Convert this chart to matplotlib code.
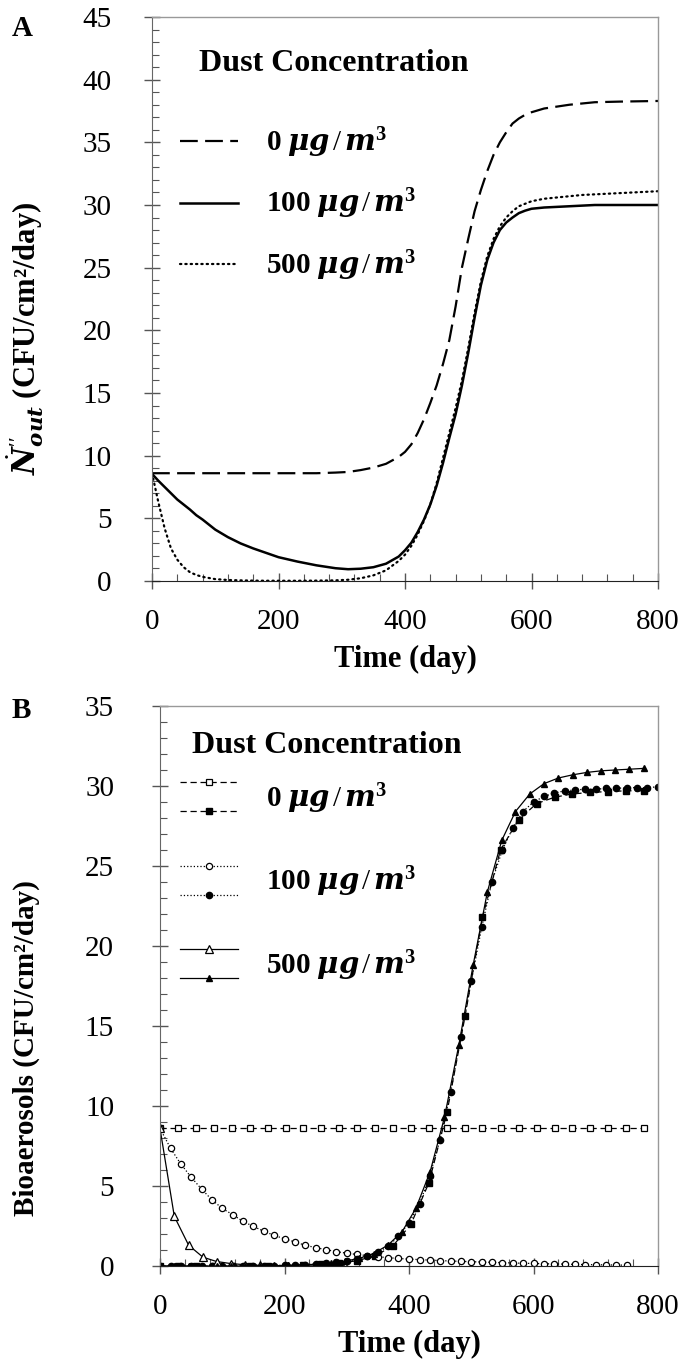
import numpy as np
import matplotlib
matplotlib.use("Agg")
import matplotlib.pyplot as plt
from matplotlib.ticker import MultipleLocator
from matplotlib.legend_handler import HandlerBase, HandlerLine2D

plt.rcParams['font.family'] = ['Liberation Serif', 'DejaVu Serif']
plt.rcParams['mathtext.fontset'] = 'custom'
plt.rcParams['mathtext.rm'] = 'Liberation Serif'
plt.rcParams['mathtext.it'] = 'Liberation Serif:italic'
plt.rcParams['mathtext.bf'] = 'Liberation Serif:bold'
plt.rcParams['mathtext.bfit'] = 'DejaVu Serif:bold:italic'

# ---- panel A data (day, CFU/cm2/day) ----
days_a = [0, 10, 20, 30, 40, 50, 60, 70, 80, 100, 120, 140, 160, 180, 200, 230,
          260, 290, 310, 330, 350, 370, 390, 400, 410, 420, 430, 440, 450, 460,
          470, 480, 490, 500, 510, 520, 530, 540, 550, 560, 570, 580, 590, 600,
          620, 640, 660, 680, 700, 740, 800]
dust0_a = [8.6, 8.6, 8.6, 8.6, 8.6, 8.6, 8.6, 8.6, 8.6, 8.6, 8.6, 8.6, 8.6, 8.6,
           8.6, 8.6, 8.6, 8.65, 8.7, 8.85, 9.05, 9.35, 9.9, 10.3, 10.9, 11.8,
           12.9, 14.2, 15.6, 17.3, 19.2, 21.9, 25.0, 27.3, 29.5, 31.2, 32.7,
           34.0, 35.0, 35.8, 36.5, 36.9, 37.2, 37.4, 37.7, 37.85, 38.0, 38.1,
           38.2, 38.25, 38.3]
dust100_a = [8.55, 8.0, 7.5, 7.0, 6.5, 6.1, 5.7, 5.25, 4.9, 4.1, 3.5, 3.0, 2.6,
             2.25, 1.9, 1.55, 1.25, 1.02, 0.94, 0.98, 1.1, 1.38, 1.95, 2.45,
             3.05, 3.9, 4.9, 6.1, 7.6, 9.4, 11.4, 13.3, 15.6, 18.2, 21.0, 23.6,
             25.6, 27.0, 28.0, 28.6, 29.0, 29.35, 29.55, 29.7, 29.8, 29.85,
             29.9, 29.95, 30.0, 30.0, 30.0]
dust500_a = [8.6, 6.3, 4.2, 2.6, 1.7, 1.1, 0.7, 0.48, 0.33, 0.15, 0.08, 0.05,
             0.03, 0.02, 0.02, 0.02, 0.03, 0.05, 0.1, 0.22, 0.45, 0.85, 1.6,
             2.1, 2.8, 3.7, 4.8, 6.1, 7.8, 9.8, 11.8, 13.8, 16.0, 18.6, 21.4,
             23.9, 25.9, 27.3, 28.3, 29.0, 29.5, 29.9, 30.1, 30.3, 30.5, 30.6,
             30.7, 30.8, 30.85, 30.95, 31.1]

# ---- panel B data ----
sq_days = [0, 29, 58, 86, 115, 144, 173, 202, 230, 259, 288, 317, 346, 374,
           403, 432, 461, 490, 518, 547, 576, 605, 634, 662, 691, 720, 749, 778]
sq_open = [8.6] * len(sq_days)
sq_fill = [0, 0, 0, 0, 0, 0, 0.01, 0.03, 0.06, 0.1, 0.18, 0.33, 0.65, 1.25,
           2.6, 5.2, 9.6, 15.6, 21.8, 26.0, 27.9, 28.9, 29.3, 29.5, 29.6,
           29.65, 29.7, 29.7]

ci_days = [0, 17, 33, 50, 67, 83, 100, 117, 133, 150, 167, 183, 200, 217, 233,
           250, 267, 283, 300, 317, 333, 350, 367, 383, 400, 417, 433, 450, 467,
           483, 500, 517, 533, 550, 567, 583, 600, 617, 633, 650, 667, 683, 700,
           717, 733, 750, 767, 783, 800]
ci_open = [8.6, 7.35, 6.4, 5.55, 4.8, 4.15, 3.6, 3.2, 2.8, 2.47, 2.17, 1.92,
           1.7, 1.5, 1.3, 1.15, 1.02, 0.9, 0.8, 0.72, 0.65, 0.58, 0.52, 0.47,
           0.43, 0.4, 0.37, 0.34, 0.31, 0.29, 0.27, 0.25, 0.23, 0.21, 0.19,
           0.17, 0.16, 0.14, 0.13, 0.12, 0.1, 0.09, 0.08, 0.07, 0.06, 0.05]
ci_fill = [0, 0, 0, 0, 0, 0, 0, 0, 0, 0.01, 0.02, 0.03, 0.05, 0.07, 0.09, 0.12,
           0.16, 0.22, 0.3, 0.42, 0.6, 0.85, 1.25, 1.85, 2.7, 3.9, 5.6, 7.9,
           10.9, 14.3, 17.8, 21.2, 24.0, 26.0, 27.4, 28.4, 29.0, 29.35, 29.55,
           29.7, 29.75, 29.8, 29.8, 29.85, 29.85, 29.9, 29.9, 29.9, 29.95]

tr_days = [0, 23, 46, 69, 91, 114, 137, 160, 183, 206, 229, 251, 274, 297, 320,
           343, 366, 389, 411, 434, 457, 480, 503, 526, 549, 571, 594, 617, 640,
           663, 686, 709, 731, 754, 777]
tr_open = [8.6, 3.1, 1.3, 0.55, 0.28, 0.15, 0.08, 0.04, 0.02, 0.01, 0, 0, 0, 0]
tr_fill = [0, 0, 0, 0, 0, 0, 0, 0.01, 0.02, 0.04, 0.07, 0.11, 0.18, 0.3, 0.48,
           0.78, 1.3, 2.15, 3.6, 5.9, 9.3, 13.8, 18.8, 23.4, 26.6, 28.4, 29.5,
           30.15, 30.5, 30.7, 30.85, 30.95, 31.0, 31.05, 31.1]

labels = [r'$\mathbf{0}\ \mathbfit{\mu g}\,/\,\mathbfit{m}^{\mathbf{3}}$',
          r'$\mathbf{100}\ \mathbfit{\mu g}\,/\,\mathbfit{m}^{\mathbf{3}}$',
          r'$\mathbf{500}\ \mathbfit{\mu g}\,/\,\mathbfit{m}^{\mathbf{3}}$']


class HandlerPair(HandlerBase):
    # two legend lines stacked on top of each other for one label
    def create_artists(self, legend, orig_handle, xdescent, ydescent,
                       width, height, fontsize, trans):
        out = []
        gap = 1.0 * fontsize
        for h, dy in zip(orig_handle, (gap / 2, -gap / 2)):
            out += HandlerLine2D().create_artists(legend, h, xdescent,
                                                  ydescent - 2 * dy, width,
                                                  height, fontsize, trans)
        return out


def style_axes(ax, ymax, ypad):
    ax.set_xlim(0, 800)
    ax.set_ylim(0, ymax)
    ax.xaxis.set_major_locator(MultipleLocator(200))
    ax.xaxis.set_minor_locator(MultipleLocator(40))
    ax.yaxis.set_major_locator(MultipleLocator(5))
    ax.yaxis.set_minor_locator(MultipleLocator(1))
    ax.tick_params(axis='y', which='major', direction='inout', length=12,
                   width=1, color='#555555', labelsize=21, pad=ypad)
    ax.tick_params(axis='x', which='major', direction='inout', length=12,
                   width=1, color='#555555', labelsize=21, pad=14)
    ax.tick_params(which='minor', direction='in', length=5, width=0.8,
                   color='#555555')
    for s in ['top', 'right']:
        ax.spines[s].set_color('#999999')
        ax.spines[s].set_linewidth(1)
    ax.spines['left'].set_color('#666666')
    ax.spines['bottom'].set_color('#222222')
    ax.set_xlabel('Time (day)', fontsize=22, fontweight='bold')


fig = plt.figure(figsize=(6.86, 13.72), dpi=100)

# ---- A ----
axA = fig.add_axes([152/686, 1 - 581/1372, 506/686, 564/1372])
la, = axA.plot(days_a, dust0_a, color='black', lw=1.6, dashes=(8, 3.3))
lb, = axA.plot(days_a, dust100_a, color='black', lw=1.8)
lc, = axA.plot(days_a, dust500_a, color='black', lw=1.6, dashes=(0.6, 1.8),
               dash_capstyle='round')
style_axes(axA, 45, 23)
axA.xaxis.set_label_coords(0.5, -0.113)
axA.set_ylabel(r'$\dot{\mathbfit{N}}^{\prime\prime}_{\mathbfit{out}}$ (CFU/cm²/day)',
               fontsize=22, fontweight='bold')
axA.yaxis.set_label_coords(-0.21, 0.43)
axA.text(0.093, 0.918, 'Dust Concentration', transform=axA.transAxes,
         fontsize=23, fontweight='bold', va='center')
axA.legend([la, lb, lc], labels, loc='upper left', bbox_to_anchor=(0.055, 0.808),
           frameon=False, fontsize=21, handlelength=2.0, handletextpad=0.95,
           labelspacing=0.93, borderpad=0, borderaxespad=0)
fig.text(22/686, 1 - 29/1372, 'A', fontsize=21, fontweight='bold',
         ha='center', va='center')

# ---- B ----
axB = fig.add_axes([160/686, 1 - 1266/1372, 498/686, 560/1372])
lw_b = 0.9
p1, = axB.plot(sq_days, sq_open, color='black', lw=lw_b, dashes=(5, 3),
               marker='s', ms=4.5, mfc='white', mec='black', mew=0.9)
p2, = axB.plot(sq_days, sq_fill, color='black', lw=lw_b, dashes=(5, 3),
               marker='s', ms=4.5, mfc='black', mec='black')
p3, = axB.plot(ci_days[:len(ci_open)], ci_open, color='black', lw=lw_b,
               ls=':', marker='o', ms=4.5, mfc='white', mec='black', mew=0.9)
p4, = axB.plot(ci_days, ci_fill, color='black', lw=lw_b, ls=':',
               marker='o', ms=4.5, mfc='black', mec='black')
p5, = axB.plot(tr_days[:len(tr_open)], tr_open, color='black', lw=lw_b,
               marker='^', ms=6, mfc='white', mec='black', mew=0.9)
p6, = axB.plot(tr_days, tr_fill, color='black', lw=lw_b,
               marker='^', ms=5, mfc='black', mec='black')
style_axes(axB, 35, 27)
axB.xaxis.set_label_coords(0.5, -0.115)
axB.set_ylabel('Bioaerosols (CFU/cm²/day)', fontsize=21, fontweight='bold')
axB.yaxis.set_label_coords(-0.24, 0.39)
axB.text(0.064, 0.929, 'Dust Concentration', transform=axB.transAxes,
         fontsize=23, fontweight='bold', va='center')
axB.legend([(p1, p2), (p3, p4), (p5, p6)], labels, loc='upper left',
           bbox_to_anchor=(0.04, 0.866), frameon=False, fontsize=21,
           handlelength=2.0, handletextpad=0.95, labelspacing=1.68,
           borderpad=0, borderaxespad=0, handler_map={tuple: HandlerPair()})
fig.text(21/686, 1 - 711/1372, 'B', fontsize=21, fontweight='bold',
         ha='center', va='center')

fig.savefig('out.png', dpi=100)
